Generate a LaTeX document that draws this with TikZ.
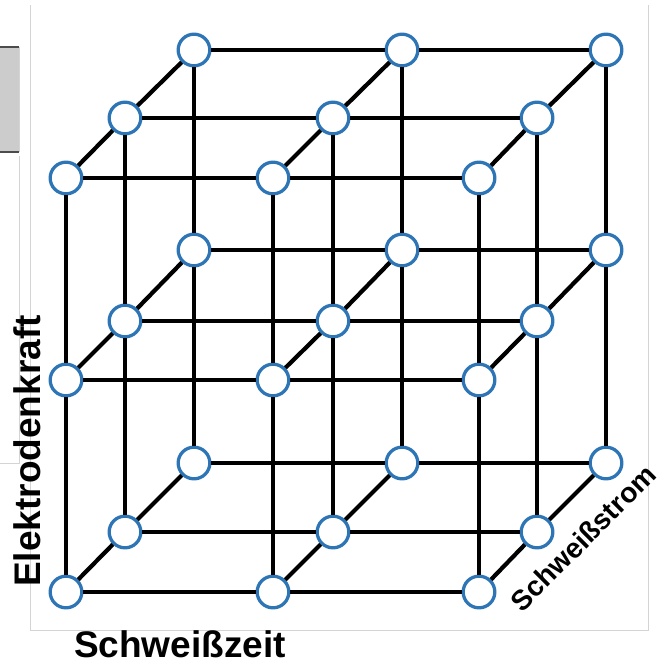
\documentclass[tikz,border=0pt]{standalone}
\usepackage{fontspec}
\newfontfamily\axisfont{Liberation Sans}
\usetikzlibrary{positioning}
\definecolor{nodeblue}{RGB}{46,117,182}
\definecolor{framegray}{RGB}{212,212,212}

\begin{document}
\begin{tikzpicture}[x=0.03cm,y=-0.03cm,
  gridnode/.style={circle,draw=nodeblue,fill=white,line width=2.8pt,minimum size=0.95cm,inner sep=0pt},
  gridline/.style={black,line width=4.2pt},
  depthline/.style={black,line width=3.6pt},
  axislabel/.style={font=\axisfont\bfseries\fontsize{31.6}{36}\selectfont,inner sep=0pt}]
\useasboundingbox (0,0) rectangle (667,666);
% screenshot leftovers
\draw[fill=black!20,draw=none] (0,47) rectangle (19,152);
\draw[black!70,line width=0.9pt] (0,47) -- (19,47);
\draw[black!70,line width=0.9pt] (0,152) -- (19,152);
\draw[framegray,line width=0.6pt] (19,47) -- (19,152);
\draw[framegray,line width=0.6pt] (19,156) -- (19,463) -- (0,463);
\draw[framegray,line width=0.8pt] (30,5) -- (30,630) -- (648,630) -- (648,5);

% front layer
\node[gridnode] (F11) at (66,178) {};
\node[gridnode] (F12) at (273,178) {};
\node[gridnode] (F13) at (479,178) {};
\node[gridnode] (F21) at (66,380) {};
\node[gridnode] (F22) at (273,380) {};
\node[gridnode] (F23) at (479,380) {};
\node[gridnode] (F31) at (66,592) {};
\node[gridnode] (F32) at (273,592) {};
\node[gridnode] (F33) at (479,592) {};
% middle layer
\node[gridnode] (M11) at (125,118) {};
\node[gridnode] (M12) at (333,118) {};
\node[gridnode] (M13) at (537,118) {};
\node[gridnode] (M21) at (125,321) {};
\node[gridnode] (M22) at (333,321) {};
\node[gridnode] (M23) at (537,321) {};
\node[gridnode] (M31) at (125,532) {};
\node[gridnode] (M32) at (333,532) {};
\node[gridnode] (M33) at (537,532) {};
% back layer
\node[gridnode] (B11) at (194,50) {};
\node[gridnode] (B12) at (402,50) {};
\node[gridnode] (B13) at (606,50) {};
\node[gridnode] (B21) at (194,250) {};
\node[gridnode] (B22) at (402,250) {};
\node[gridnode] (B23) at (606,250) {};
\node[gridnode] (B31) at (194,463) {};
\node[gridnode] (B32) at (402,463) {};
\node[gridnode] (B33) at (606,463) {};

% rows
\draw[gridline] (F11) -- (F12) -- (F13);
\draw[gridline] (F21) -- (F22) -- (F23);
\draw[gridline] (F31) -- (F32) -- (F33);
\draw[gridline] (M11) -- (M12) -- (M13);
\draw[gridline] (M21) -- (M22) -- (M23);
\draw[gridline] (M31) -- (M32) -- (M33);
\draw[gridline] (B11) -- (B12) -- (B13);
\draw[gridline] (B21) -- (B22) -- (B23);
\draw[gridline] (B31) -- (B32) -- (B33);
% columns
\draw[gridline] (F11) -- (F21) -- (F31);
\draw[gridline] (F12) -- (F22) -- (F32);
\draw[gridline] (F13) -- (F23) -- (F33);
\draw[gridline] (M11) -- (M21) -- (M31);
\draw[gridline] (M12) -- (M22) -- (M32);
\draw[gridline] (M13) -- (M23) -- (M33);
\draw[gridline] (B11) -- (B21) -- (B31);
\draw[gridline] (B12) -- (B22) -- (B32);
\draw[gridline] (B13) -- (B23) -- (B33);
% depth
\draw[depthline] (F11) -- (M11) -- (B11);
\draw[depthline] (F12) -- (M12) -- (B12);
\draw[depthline] (F13) -- (M13) -- (B13);
\draw[depthline] (F21) -- (M21) -- (B21);
\draw[depthline] (F22) -- (M22) -- (B22);
\draw[depthline] (F23) -- (M23) -- (B23);
\draw[depthline] (F31) -- (M31) -- (B31);
\draw[depthline] (F32) -- (M32) -- (B32);
\draw[depthline] (F33) -- (M33) -- (B33);

% axis labels
\node[axislabel,anchor=base] (zeit) at (180,657) {Schweißzeit};
\node[axislabel,anchor=base,rotate=90] (kraft) at (40,451) {Elektrodenkraft};
\node[axislabel,font=\axisfont\bfseries\fontsize{24}{28}\selectfont,rotate=45] (strom) at (583,538) {Schweißstrom};

\end{tikzpicture}
\end{document}
